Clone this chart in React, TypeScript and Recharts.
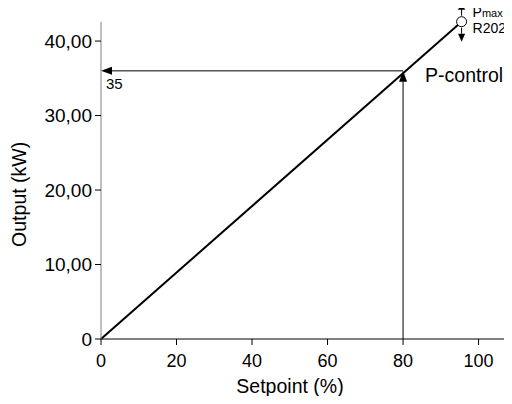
import React from 'react';
import { LineChart, Line, XAxis, YAxis, ReferenceLine, ReferenceDot } from 'recharts';

const setpoints = [0, 95.5];
const outputs = [0, 42.6];
const xTicks = [0, 20, 40, 60, 80, 100];
const yTicks = [0, 10, 20, 30, 40];
const yTickLabels = ['0', '10,00', '20,00', '30,00', '40,00'];
const markSetpoint = 80;
const markOutput = 36;
const markLabel = '35';
const curveLabel = 'P-control';
const maxLabelMain = 'P';
const maxLabelSub = 'max';
const refLabel = 'R202';
const xTitle = 'Setpoint (%)';
const yTitle = 'Output (kW)';

const data = setpoints.map((s, i) => ({ setpoint: s, output: outputs[i] }));

const FONT = 'Liberation Sans, Arial, sans-serif';

const HArrow = (props: any) => {
  const { x1, y1, x2, y2 } = props;
  return (
    <g>
      <line x1={x1} y1={y1} x2={x2 + 8} y2={y2} stroke="#000" strokeWidth={1} />
      <polygon points={`${x2},${y2} ${x2 + 11},${y2 - 4} ${x2 + 11},${y2 + 4}`} fill="#000" />
      <text x={x2 + 5} y={y2 + 18} fontSize={15} fontFamily={FONT} fill="#000">{markLabel}</text>
    </g>
  );
};

const VArrow = (props: any) => {
  const { x1, y1, x2, y2 } = props;
  const top = Math.min(y1, y2);
  const bottom = Math.max(y1, y2);
  return (
    <g>
      <line x1={x1} y1={bottom} x2={x1} y2={top + 8} stroke="#000" strokeWidth={1} />
      <polygon points={`${x1},${top} ${x1 - 4},${top + 11} ${x1 + 4},${top + 11}`} fill="#000" />
      <text x={x1 + 22} y={top + 11} fontSize={19.5} fontFamily={FONT} fill="#000">{curveLabel}</text>
    </g>
  );
};

const MaxDot = (props: any) => {
  const { cx, cy } = props;
  return (
    <g>
      <circle cx={cx} cy={cy} r={5} fill="#fff" stroke="#000" strokeWidth={1} />
      <line x1={cx} y1={cy - 6} x2={cx} y2={cy - 13} stroke="#000" strokeWidth={1} />
      <polygon points={`${cx},${cy - 20} ${cx - 3.5},${cy - 12} ${cx + 3.5},${cy - 12}`} fill="#000" />
      <line x1={cx} y1={cy + 6} x2={cx} y2={cy + 12} stroke="#000" strokeWidth={1} />
      <polygon points={`${cx},${cy + 20} ${cx - 3.5},${cy + 12} ${cx + 3.5},${cy + 12}`} fill="#000" />
      <text x={cx + 11} y={cy - 4.5} fontFamily={FONT} fill="#000">
        <tspan fontSize={14}>{maxLabelMain}</tspan>
        <tspan fontSize={11}>{maxLabelSub}</tspan>
      </text>
      <text x={cx + 11} y={cy + 11} fontSize={14} fontFamily={FONT} fill="#000">{refLabel}</text>
    </g>
  );
};

export default function App() {
  return (
    <div style={{ margin: -8, width: 512, height: 404 }}>
      <LineChart
        width={512}
        height={404}
        data={data}
        margin={{ top: 21.7, right: 7, bottom: 0, left: 0 }}
      >
        <XAxis
          type="number"
          dataKey="setpoint"
          domain={[0, 107]}
          ticks={xTicks}
          height={65}
          tickSize={6}
          tickMargin={9}
          stroke="#000"
          tick={{ fill: '#000', fontSize: 18, fontFamily: FONT }}
          label={{ value: xTitle, position: 'insideBottom', offset: 11, dx: -13, fill: '#000', fontSize: 19.5, fontFamily: FONT }}
        />
        <YAxis
          type="number"
          domain={[0, 42.6]}
          ticks={yTicks}
          width={101}
          tickSize={6}
          tickMargin={3}
          stroke="#808080"
          tickLine={{ stroke: '#000' }}
          tickFormatter={(v: number) => yTickLabels[yTicks.indexOf(v)]}
          tick={{ fill: '#000', fontSize: 19, fontFamily: FONT }}
          label={{ value: yTitle, angle: -90, position: 'center', dx: -31.5, dy: 14, fill: '#000', fontSize: 19.5, fontFamily: FONT }}
        />
        <ReferenceLine
          segment={[{ x: markSetpoint, y: 0 }, { x: markSetpoint, y: markOutput }]}
          ifOverflow="visible"
          shape={VArrow}
        />
        <ReferenceLine
          segment={[{ x: markSetpoint, y: markOutput }, { x: 0, y: markOutput }]}
          ifOverflow="visible"
          shape={HArrow}
        />
        <Line
          type="linear"
          dataKey="output"
          stroke="#000"
          strokeWidth={2}
          dot={false}
          activeDot={false}
          isAnimationActive={false}
        />
        <ReferenceDot
          x={setpoints[1]}
          y={outputs[1]}
          r={5}
          ifOverflow="visible"
          shape={MaxDot}
        />
      </LineChart>
    </div>
  );
}
